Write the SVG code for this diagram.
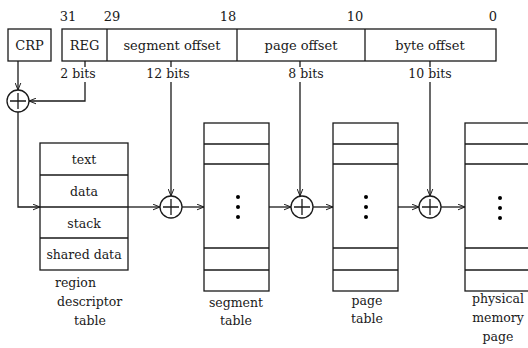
<svg xmlns="http://www.w3.org/2000/svg" width="528" height="348" viewBox="0 0 528 348">
<defs>
<marker id="arr" viewBox="0 0 10 10" refX="10" refY="5" markerWidth="7" markerHeight="7" orient="auto" markerUnits="userSpaceOnUse">
<path d="M0,1 L10,5 L0,9" fill="none" stroke="#1a1a1a" stroke-width="1.4"/>
</marker>
</defs>
<style>
.b{fill:#fff;stroke:#1a1a1a;stroke-width:1.3}
.l{fill:none;stroke:#1a1a1a;stroke-width:1.3}
.c{fill:none;stroke:#1a1a1a;stroke-width:1.3;marker-end:url(#arr)}
text{font-family:"DejaVu Serif","Liberation Serif",serif;font-size:12.5px;fill:#1a1a1a}
.m{text-anchor:middle}
.t{font-size:13px}
</style>
<rect width="528" height="348" fill="#fff"/>
<g id="crp">
<rect class="b" x="8" y="29" width="43" height="32"/>
<text class="m t" x="29.5" y="50">CRP</text>
</g>
<g id="address">
<rect class="b" x="62" y="29" width="434" height="32"/>
<line class="l" x1="107" y1="29" x2="107" y2="61"/>
<line class="l" x1="237" y1="29" x2="237" y2="61"/>
<line class="l" x1="365" y1="29" x2="365" y2="61"/>
<text class="m t" x="84.5" y="50">REG</text>
<text class="m t" x="172" y="50">segment offset</text>
<text class="m t" x="301" y="50">page offset</text>
<text class="m t" x="430" y="50">byte offset</text>
<text class="m t" x="68" y="21">31</text>
<text class="m t" x="112" y="21">29</text>
<text class="m t" x="228" y="21">18</text>
<text class="m t" x="355" y="21">10</text>
<text class="m t" x="493" y="21">0</text>
<text class="m" x="78" y="78">2 bits</text>
<text class="m" x="168" y="78">12 bits</text>
<text class="m" x="306" y="78">8 bits</text>
<text class="m" x="430" y="78">10 bits</text>
</g>
<g id="add1">
<circle class="b" cx="18" cy="101" r="11"/>
<path class="l" d="M18,93 V109 M10,101 H26"/>
</g>
<g id="region-table">
<rect class="b" x="40" y="143" width="88" height="127"/>
<path class="l" d="M40,175 H128 M40,207 H128 M40,238 H128"/>
<text class="m" x="84" y="164">text</text>
<text class="m" x="84" y="196">data</text>
<text class="m" x="84" y="228">stack</text>
<text class="m" x="84" y="259">shared data</text>
<text x="55" y="287">region</text>
<text x="57" y="306">descriptor</text>
<text class="m" x="90" y="325">table</text>
</g>
<g id="add2">
<circle class="b" cx="171" cy="207" r="11"/>
<path class="l" d="M171,199 V215 M163,207 H179"/>
</g>
<g id="segment-table">
<rect class="b" x="204" y="123" width="65" height="168"/>
<path class="l" d="M204,144 H269 M204,164 H269 M204,248 H269 M204,270 H269"/>
<circle cx="238" cy="197" r="2"/><circle cx="238" cy="207" r="2"/><circle cx="238" cy="217" r="2"/>
<text class="m" x="236" y="307">segment</text>
<text class="m" x="236" y="325">table</text>
</g>
<g id="add3">
<circle class="b" cx="302" cy="207" r="11"/>
<path class="l" d="M302,199 V215 M294,207 H310"/>
</g>
<g id="page-table">
<rect class="b" x="333" y="123" width="65" height="168"/>
<path class="l" d="M333,144 H398 M333,164 H398 M333,248 H398 M333,270 H398"/>
<circle cx="366" cy="197" r="2"/><circle cx="366" cy="207" r="2"/><circle cx="366" cy="217" r="2"/>
<text class="m" x="367" y="305">page</text>
<text class="m" x="367" y="323">table</text>
</g>
<g id="add4">
<circle class="b" cx="430" cy="207" r="11"/>
<path class="l" d="M430,199 V215 M422,207 H438"/>
</g>
<g id="memory-page">
<rect class="b" x="465" y="123" width="70" height="168"/>
<path class="l" d="M465,144 H535 M465,164 H535 M465,248 H535 M465,270 H535"/>
<circle cx="500" cy="198" r="2"/><circle cx="500" cy="208" r="2"/><circle cx="500" cy="218" r="2"/>
<text class="m" x="498" y="303">physical</text>
<text class="m" x="498" y="322">memory</text>
<text class="m" x="498" y="341">page</text>
</g>
<g id="connectors">
<path class="c" d="M18,61 V90"/>
<path class="l" d="M85,61 V67"/>
<path class="c" d="M85,82 V101 H29"/>
<path class="c" d="M18,112 V207 H40"/>
<path class="c" d="M128,207 H160"/>
<path class="l" d="M171,61 V67"/>
<path class="c" d="M171,82 V196"/>
<path class="c" d="M182,207 H204"/>
<path class="c" d="M269,207 H291"/>
<path class="l" d="M300,61 V67"/>
<path class="c" d="M300,82 V196"/>
<path class="c" d="M313,207 H333"/>
<path class="c" d="M398,207 H419"/>
<path class="l" d="M430,61 V67"/>
<path class="c" d="M430,82 V196"/>
<path class="c" d="M441,207 H465"/>
</g>
</svg>
